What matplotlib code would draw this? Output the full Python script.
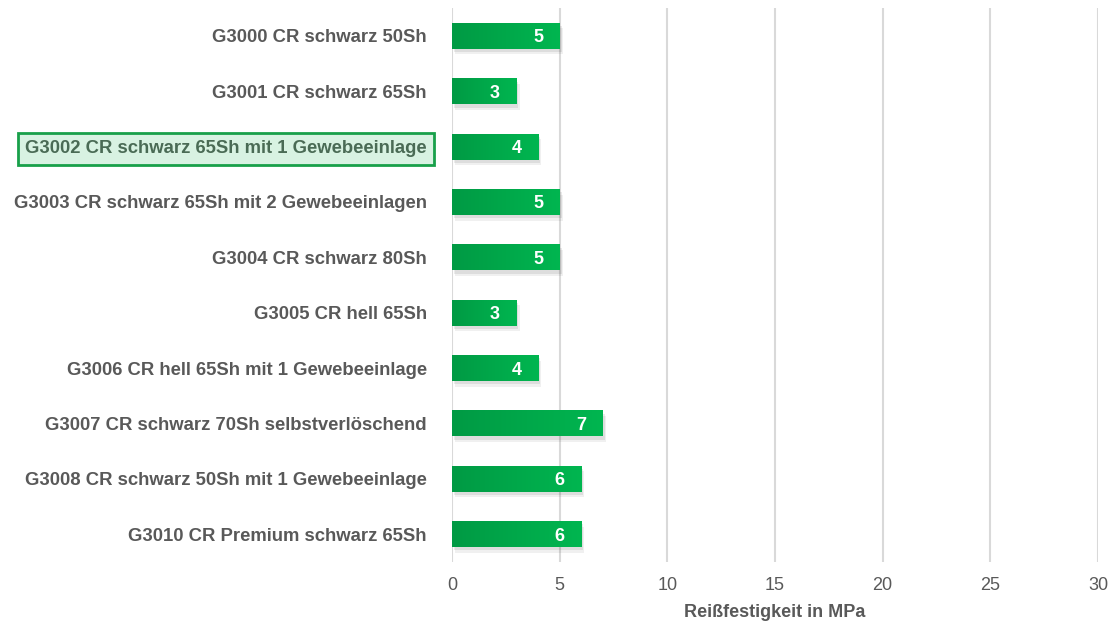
import numpy as np
import matplotlib.pyplot as plt
from matplotlib.colors import LinearSegmentedColormap

plt.rcParams['font.family'] = ['Liberation Sans', 'DejaVu Sans']

# Data
products = [
    "G3000 CR schwarz 50Sh",
    "G3001 CR schwarz 65Sh",
    "G3002 CR schwarz 65Sh mit 1 Gewebeeinlage",
    "G3003 CR schwarz 65Sh mit 2 Gewebeeinlagen",
    "G3004 CR schwarz 80Sh",
    "G3005 CR hell 65Sh",
    "G3006 CR hell 65Sh mit 1 Gewebeeinlage",
    "G3007 CR schwarz 70Sh selbstverlöschend",
    "G3008 CR schwarz 50Sh mit 1 Gewebeeinlage",
    "G3010 CR Premium schwarz 65Sh",
]
strength = [5, 3, 4, 5, 5, 3, 4, 7, 6, 6]
highlight = "G3002 CR schwarz 65Sh mit 1 Gewebeeinlage"
xticks = [0, 5, 10, 15, 20, 25, 30]

fig = plt.figure(figsize=(11.11, 6.23), dpi=100)
ax = fig.add_axes([0.4068, 0.0984, 0.5815, 0.8883])

n = len(products)
y = np.arange(n)
h = 0.47
cmap = LinearSegmentedColormap.from_list("grn", ["#009a44", "#00b650"])
grad = np.linspace(0, 1, 256).reshape(1, -1)

for i, v in enumerate(strength):
    # soft shadow
    for k, a in [(0.10, 0.06), (0.06, 0.08)]:
        ax.barh(y[i] + k, v, height=h, left=k * 1.5, color="#000000", alpha=a,
                zorder=2, linewidth=0)
    bar = ax.barh(y[i], v, height=h, color="none", zorder=3)[0]
    im = ax.imshow(grad, cmap=cmap, aspect="auto", zorder=3,
                   extent=[0, v, y[i] + h / 2, y[i] - h / 2])
    im.set_clip_path(bar)
    ax.text(v - 1.0, y[i], str(v), color="white", fontsize=13,
            fontweight="bold", ha="center", va="center_baseline", zorder=4)

ax.set_ylim(n - 0.5, -0.5)
ax.set_xlim(0, 30)

ax.set_xticks(xticks)
ax.xaxis.grid(True, color="#d9d9d9", linewidth=1.5, zorder=0)
ax.set_axisbelow(True)
for s in ax.spines.values():
    s.set_visible(False)
ax.tick_params(axis="x", length=0, labelsize=13, labelcolor="#595959", pad=11)
ax.tick_params(axis="y", length=0, pad=18)

ax.set_yticks(y)
ax.set_yticklabels(products, fontsize=13.3, fontweight="bold", color="#595959")
for lbl in ax.get_yticklabels():
    if lbl.get_text() == highlight:
        lbl.set_color("#4a6b55")
        lbl.set_bbox(dict(facecolor="#d8f2e2", edgecolor="#18a04a",
                          linewidth=2, boxstyle="square,pad=0.4"))

ax.set_xlabel("Reißfestigkeit in MPa", fontsize=13, fontweight="bold",
              color="#595959", labelpad=7)

fig.savefig("out.png", dpi=100)
